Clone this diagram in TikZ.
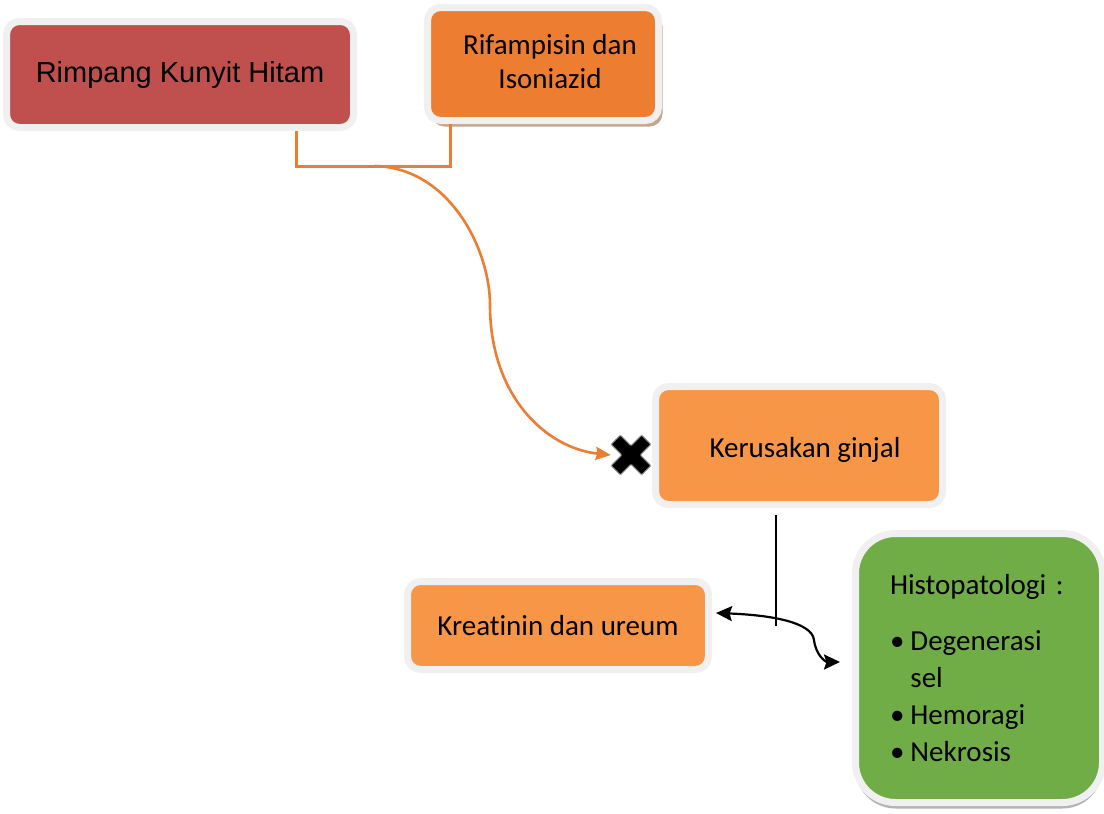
\documentclass[tikz,border=0pt]{standalone}
\usepackage{fontspec}
\setmainfont{Carlito}[Ligatures={NoCommon}]
\newfontfamily\arialf{Liberation Sans}
\usetikzlibrary{arrows.meta,shadows}
\definecolor{cred}{HTML}{C0504D}
\definecolor{corange}{HTML}{ED7D31}
\definecolor{clorange}{HTML}{F79646}
\definecolor{cgreen}{HTML}{70AD47}
\definecolor{cring}{HTML}{F0F0F0}
\definecolor{ctan}{HTML}{C9A48A}
\definecolor{cshadow}{HTML}{B4B4B4}
\tikzset{
  glowbox/.style={rectangle, rounded corners=13pt, draw=cring, line width=7pt,
    inner sep=0pt, align=center, text=black,
    font=\fontsize{29}{34}\selectfont},
  orangeline/.style={draw=corange, line width=2.6pt},
  blackarrow/.style={draw=black, line width=2.2pt,
    {Stealth[length=16pt,width=15pt,inset=2.5pt]}-{Stealth[length=16pt,width=15pt,inset=2.5pt]}},
  crossmark/.style={fill=black, draw=gray, line width=1pt, rounded corners=1pt}
}
\begin{document}
\begin{tikzpicture}[x=1pt,y=-1pt]
\useasboundingbox[fill=white] (0,0) rectangle (1104,814);

% boxes
\node[glowbox, fill=cred, minimum width=347pt, minimum height=106pt,
      font=\arialf\fontsize{29}{34}\selectfont] (rimpang) at (180,74.5) {Rimpang Kunyit Hitam};
\node[glowbox, fill=corange, minimum width=231pt, minimum height=113pt,
      drop shadow={shadow xshift=4pt, shadow yshift=-6pt, fill=ctan, opacity=1}]
      (rifa) at (543,64) {\hspace*{14pt}Rifampisin dan\\\hspace*{14pt}Isoniazid\\[-28pt]};
\node[glowbox, fill=clorange, minimum width=287pt, minimum height=118pt]
      (kerus) at (799,445.5) {\raisebox{-4pt}[\height][\depth]{\hspace*{12pt}Kerusakan ginjal}};
\node[glowbox, fill=clorange, minimum width=301pt, minimum height=88pt]
      (kreat) at (558,625.5) {Kreatinin dan ureum};
\node[glowbox, fill=cgreen, rounded corners=40pt, minimum width=247pt, minimum height=269pt,
      text width=178pt, align=left,
      drop shadow={shadow xshift=0pt, shadow yshift=-6pt, fill=cshadow, opacity=1}]
      (histo) at (979,668)
      {Histopatologi :\\[22pt]
       \textbullet\hspace{6pt}Degenerasi\\[3pt]
       \phantom{\textbullet}\hspace{6pt}sel\\[3pt]
       \textbullet\hspace{6pt}Hemoragi\\[3pt]
       \textbullet\hspace{6pt}Nekrosis\\[6pt]};

% cross mark
\node[minimum size=40pt, inner sep=0pt] (xm) at (631,455) {};
\draw[crossmark, shift={(xm.center)}, rotate=45]
  (6.5,6.5) -- (6.5,21.5) -- (-6.5,21.5) -- (-6.5,6.5) -- (-21.5,6.5) -- (-21.5,-6.5)
  -- (-6.5,-6.5) -- (-6.5,-21.5) -- (6.5,-21.5) -- (6.5,-6.5) -- (21.5,-6.5) -- (21.5,6.5) -- cycle;

% orange bracket and curve
\coordinate (jn) at (375,166);
\draw[orangeline, line width=3pt]
  ([xshift=116pt]rimpang.south) |- ([xshift=-93pt]rifa.south |- jn) -- ([xshift=-93pt]rifa.south);
\draw[orangeline, -{Stealth[length=15pt,width=13pt,inset=1.5pt]}]
  (jn) .. controls (450,168) and (490,250) .. (490,305)
       .. controls (490,395) and (545,448) .. (xm.west);

% black line and double arrow
\coordinate (vend) at (776,626);
\draw[black, line width=1.4pt] ([xshift=-23pt,yshift=-7pt]kerus.south) -- (vend);
\draw[blackarrow]
  ([xshift=4pt,yshift=12.5pt]kreat.east) .. controls (770,615) and (812,622) .. (814,640)
  .. controls (816,656) and (826,662) .. ([xshift=-12pt,yshift=6pt]histo.west);
\end{tikzpicture}
\end{document}
